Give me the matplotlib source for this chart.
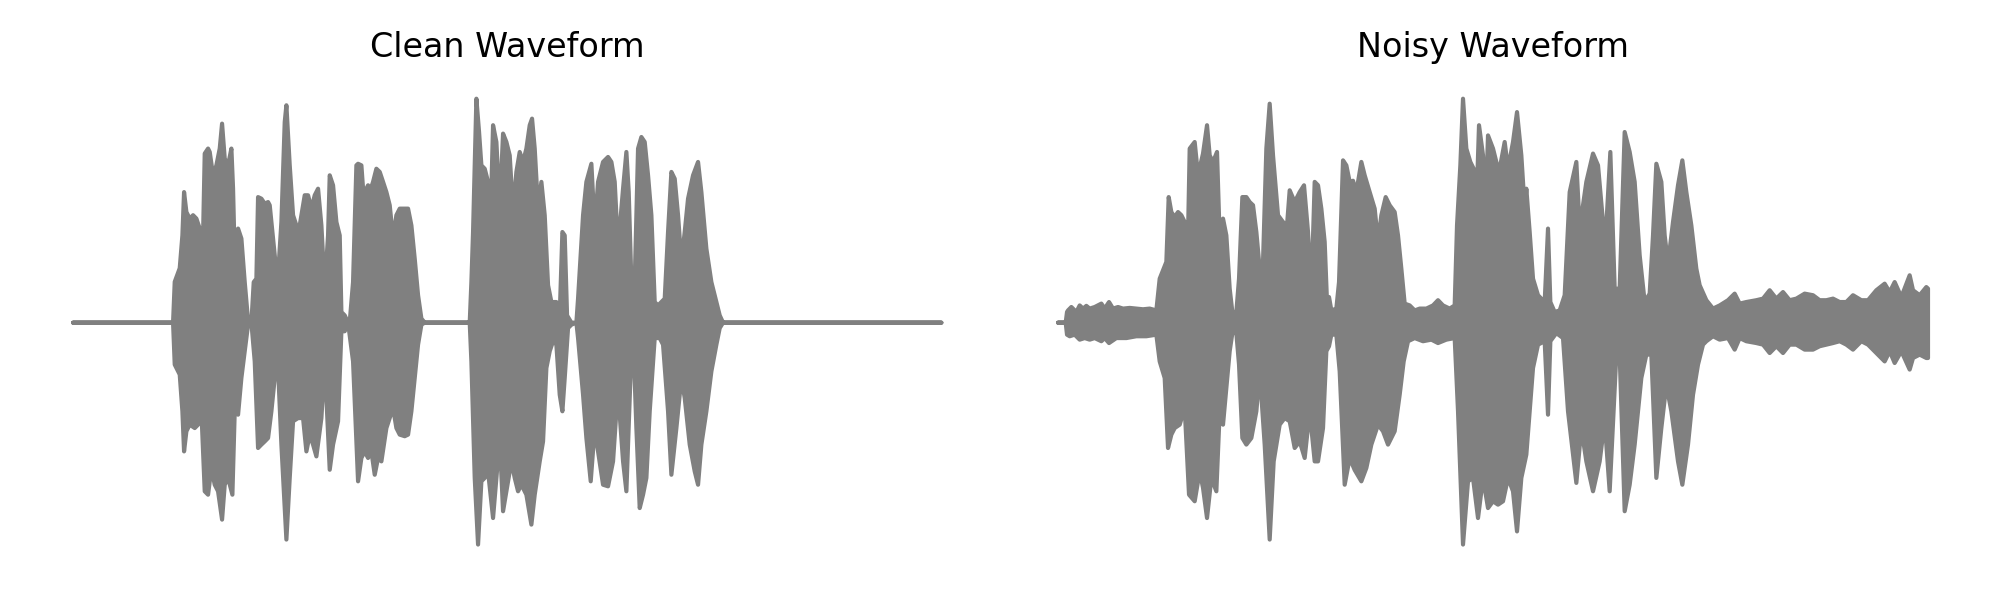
import numpy as np
import matplotlib
matplotlib.use("Agg")
import matplotlib.pyplot as plt

# envelope of the waveforms: time in ms, amplitude normalised
clean_upper_t = [1, 301, 306, 321, 329, 334, 341, 351, 361, 371, 381, 391, 396, 406, 411, 421, 431, 441, 448,
                 456, 466, 476, 481, 486, 496, 506, 516, 526, 536, 543, 551, 556, 566, 576, 586, 591, 601, 611,
                 616, 626, 636, 641, 651, 661, 671, 681, 696, 706, 716, 726, 736, 746, 756, 766, 771, 781, 791,
                 801, 806, 816, 826, 831, 841, 851, 856, 866, 871, 881, 886, 891, 901, 911, 921, 931, 941, 951,
                 961, 971, 981, 991, 1006, 1016, 1026, 1036, 1046, 1056, 1191, 1196, 1201, 1211, 1219, 1226,
                 1236, 1246, 1256, 1261, 1271, 1281, 1291, 1301, 1311, 1321, 1331, 1341, 1351, 1361, 1371,
                 1378, 1386, 1396, 1406, 1416, 1426, 1436, 1451, 1461, 1469, 1476, 1483, 1496, 1511, 1516,
                 1531, 1541, 1556, 1566, 1576, 1591, 1606, 1616, 1626, 1633, 1641, 1651, 1661, 1668, 1676,
                 1686, 1696, 1706, 1716, 1726, 1736, 1746, 1756, 1766, 1776, 1786, 1796, 1806, 1816, 1826,
                 1836, 1846, 1861, 1876, 1886, 1901, 1916, 1931, 1941, 1951, 2606]
clean_upper = [0, 0, 0.18, 0.24, 0.385, 0.576, 0.488, 0.459, 0.474, 0.459, 0.415, 0.385, 0.746, 0.768, 0.753,
               0.65, 0.694, 0.768, 0.878, 0.724, 0.694, 0.768, 0.591, 0.282, 0.415, 0.371, 0.179, 0.01, 0,
               0.179, 0.194, 0.554, 0.547, 0.525, 0.532, 0.518, 0.371, 0.224, 0.209, 0.444, 0.885, 0.959,
               0.694, 0.474, 0.429, 0.429, 0.562, 0.562, 0.503, 0.562, 0.591, 0.429, 0.15, 0.385, 0.65,
               0.606, 0.444, 0.385, 0.047, 0.032, 0, 0.003, 0.179, 0.694, 0.701, 0.694, 0.591, 0.591,
               0.606, 0.576, 0.621, 0.679, 0.665, 0.621, 0.576, 0.518, 0.371, 0.474, 0.503, 0.503, 0.503,
               0.429, 0.282, 0.121, 0.018, 0, 0, 0.179, 0.4, 0.988, 0.841, 0.694, 0.679, 0.621, 0.591,
               0.871, 0.797, 0.503, 0.834, 0.797, 0.738, 0.488, 0.665, 0.753, 0.709, 0.768, 0.871, 0.9,
               0.768, 0.503, 0.621, 0.474, 0.165, 0.091, 0.091, 0.032, 0.4, 0.385, 0.032, 0, 0, 0.106,
               0.474, 0.621, 0.701, 0.415, 0.621, 0.709, 0.731, 0.709, 0.621, 0.415, 0.415, 0.591, 0.753,
               0.576, 0.179, 0.179, 0.768, 0.819, 0.797, 0.65, 0.474, 0.091, 0.076, 0.091, 0.106, 0.4,
               0.665, 0.635, 0.474, 0.268, 0.4, 0.547, 0.65, 0.709, 0.576, 0.326, 0.179, 0.091, 0.032, 0, 0]

clean_lower_t = [1, 301, 306, 321, 329, 334, 341, 351, 366, 376, 386, 396, 406, 416, 426, 436, 448, 456, 466,
                 479, 486, 496, 506, 516, 526, 536, 546, 556, 566, 576, 586, 596, 606, 616, 626, 641, 651, 661,
                 676, 691, 701, 711, 721, 731, 746, 756, 771, 781, 796, 806, 816, 826, 841, 856, 866, 876, 886,
                 896, 906, 916, 926, 941, 961, 971, 981, 996, 1006, 1016, 1026, 1036, 1046, 1056, 1191, 1196,
                 1206, 1216, 1226, 1236, 1246, 1261, 1271, 1281, 1291, 1316, 1326, 1336, 1346, 1361, 1376,
                 1386, 1401, 1411, 1421, 1431, 1441, 1451, 1461, 1469, 1476, 1486, 1496, 1511, 1516, 1531,
                 1541, 1554, 1566, 1576, 1591, 1606, 1621, 1631, 1641, 1651, 1661, 1676, 1683, 1691, 1701,
                 1711, 1721, 1731, 1746, 1761, 1771, 1786, 1796, 1811, 1826, 1836, 1851, 1866, 1876, 1886,
                 1901, 1916, 1931, 1941, 1951, 2606]
clean_lower = [0, 0, 0.185, 0.229, 0.391, 0.568, 0.479, 0.45, 0.465, 0.45, 0.391, 0.744, 0.759, 0.641, 0.715,
               0.744, 0.869, 0.715, 0.685, 0.759, 0.391, 0.406, 0.244, 0.126, 0.009, 0, 0.171, 0.553, 0.538,
               0.524, 0.509, 0.391, 0.244, 0.2, 0.538, 0.957, 0.685, 0.435, 0.421, 0.421, 0.568, 0.494,
               0.538, 0.59, 0.421, 0.171, 0.649, 0.538, 0.435, 0.038, 0.038, 0, 0.171, 0.7, 0.597, 0.568,
               0.597, 0.568, 0.671, 0.597, 0.612, 0.465, 0.376, 0.465, 0.494, 0.501, 0.494, 0.391, 0.244,
               0.097, 0.009, 0, 0, 0.171, 0.685, 0.979, 0.7, 0.685, 0.656, 0.862, 0.685, 0.509, 0.832,
               0.612, 0.685, 0.744, 0.715, 0.759, 0.891, 0.759, 0.612, 0.524, 0.2, 0.126, 0.082, 0.097,
               0.318, 0.391, 0.244, 0.024, 0.009, 0, 0.068, 0.318, 0.509, 0.7, 0.465, 0.568, 0.715, 0.722,
               0.612, 0.391, 0.406, 0.612, 0.744, 0.126, 0.126, 0.465, 0.818, 0.759, 0.685, 0.391, 0.068,
               0.068, 0.097, 0.391, 0.671, 0.465, 0.244, 0.332, 0.538, 0.656, 0.715, 0.538, 0.391, 0.215,
               0.097, 0.024, 0, 0]

noisy_upper_t = [1, 24, 28, 31, 41, 56, 66, 76, 86, 96, 111, 131, 141, 154, 166, 181, 196, 216, 236, 256, 276,
                 296, 306, 316, 326, 333, 341, 351, 361, 371, 381, 391, 396, 411, 421, 436, 448, 456, 466, 478,
                 486, 496, 506, 516, 524, 536, 544, 554, 566, 576, 586, 596, 606, 616, 626, 636, 646, 661, 676,
                 688, 696, 711, 726, 739, 751, 761, 771, 781, 791, 801, 808, 814, 821, 836, 844, 856, 866, 876,
                 886, 896, 911, 921, 936, 951, 961, 971, 984, 996, 1011, 1021, 1031, 1041, 1056, 1071, 1086,
                 1106, 1126, 1141, 1156, 1176, 1191, 1198, 1208, 1216, 1226, 1238, 1248, 1256, 1264, 1276,
                 1284, 1291, 1306, 1321, 1326, 1341, 1351, 1366, 1378, 1391, 1401, 1406, 1416, 1426, 1441,
                 1461, 1471, 1478, 1491, 1506, 1521, 1536, 1556, 1566, 1586, 1606, 1621, 1636, 1646, 1658,
                 1671, 1686, 1701, 1716, 1731, 1746, 1761, 1776, 1786, 1796, 1811, 1821, 1831, 1846, 1861,
                 1874, 1886, 1901, 1916, 1926, 1946, 1966, 1986, 2011, 2031, 2046, 2066, 2096, 2116, 2136,
                 2156, 2176, 2196, 2216, 2241, 2266, 2286, 2306, 2326, 2346, 2366, 2386, 2411, 2431, 2456,
                 2481, 2496, 2511, 2531, 2556, 2566, 2586, 2606, 2611]
noisy_upper = [0, 0, 0.047, 0.054, 0.069, 0.047, 0.076, 0.062, 0.074, 0.062, 0.069, 0.084, 0.062, 0.091, 0.062,
               0.069, 0.062, 0.065, 0.062, 0.059, 0.062, 0.054, 0.194, 0.231, 0.268, 0.554, 0.488, 0.466,
               0.488, 0.474, 0.444, 0.385, 0.768, 0.797, 0.65, 0.746, 0.871, 0.738, 0.709, 0.753, 0.371,
               0.459, 0.385, 0.15, 0.047, 0.047, 0.194, 0.554, 0.554, 0.532, 0.518, 0.4, 0.238, 0.268,
               0.768, 0.966, 0.738, 0.474, 0.444, 0.429, 0.584, 0.532, 0.576, 0.606, 0.4, 0.135, 0.621,
               0.606, 0.503, 0.356, 0.091, 0.113, 0.054, 0.062, 0.179, 0.716, 0.694, 0.621, 0.626, 0.576,
               0.709, 0.65, 0.576, 0.503, 0.356, 0.474, 0.554, 0.518, 0.488, 0.385, 0.238, 0.084, 0.076,
               0.054, 0.062, 0.062, 0.076, 0.099, 0.076, 0.062, 0.076, 0.429, 0.694, 0.988, 0.768, 0.709,
               0.679, 0.503, 0.871, 0.738, 0.503, 0.826, 0.768, 0.679, 0.679, 0.797, 0.679, 0.797, 0.929,
               0.738, 0.503, 0.591, 0.4, 0.194, 0.121, 0.091, 0.415, 0.091, 0.047, 0.054, 0.121, 0.576,
               0.709, 0.415, 0.621, 0.746, 0.694, 0.444, 0.429, 0.753, 0.15, 0.15, 0.841, 0.753, 0.621,
               0.297, 0.091, 0.128, 0.385, 0.701, 0.621, 0.385, 0.26, 0.444, 0.606, 0.716, 0.576, 0.429,
               0.238, 0.165, 0.099, 0.062, 0.076, 0.099, 0.128, 0.084, 0.091, 0.099, 0.106, 0.143, 0.106,
               0.135, 0.099, 0.106, 0.128, 0.121, 0.099, 0.099, 0.106, 0.091, 0.091, 0.121, 0.099, 0.099,
               0.143, 0.172, 0.135, 0.179, 0.113, 0.209, 0.143, 0.121, 0.157, 0.15]

noisy_lower_t = [1, 24, 28, 36, 51, 66, 81, 96, 111, 131, 141, 154, 176, 206, 236, 266, 296, 306, 321, 331, 341,
                 351, 366, 381, 394, 411, 426, 436, 448, 461, 476, 486, 496, 506, 516, 524, 536, 544, 554, 566,
                 581, 596, 606, 621, 636, 648, 666, 681, 696, 711, 726, 741, 756, 771, 781, 796, 806, 814, 821,
                 836, 846, 861, 876, 891, 911, 926, 941, 961, 976, 991, 1011, 1026, 1038, 1051, 1071, 1096,
                 1121, 1141, 1166, 1191, 1201, 1216, 1231, 1246, 1261, 1276, 1291, 1306, 1321, 1336, 1351,
                 1366, 1378, 1391, 1406, 1416, 1426, 1441, 1461, 1471, 1478, 1496, 1516, 1531, 1556, 1571,
                 1586, 1606, 1626, 1641, 1656, 1676, 1686, 1701, 1716, 1731, 1751, 1766, 1781, 1796, 1811,
                 1826, 1841, 1861, 1874, 1891, 1906, 1921, 1936, 1946, 1966, 1986, 2011, 2031, 2046, 2066,
                 2096, 2116, 2136, 2156, 2176, 2196, 2216, 2241, 2266, 2286, 2306, 2326, 2346, 2366, 2386,
                 2411, 2431, 2456, 2481, 2496, 2511, 2531, 2556, 2566, 2586, 2606, 2611]
noisy_lower = [0, 0, 0.053, 0.06, 0.053, 0.075, 0.068, 0.075, 0.068, 0.082, 0.068, 0.09, 0.068, 0.068, 0.06,
               0.06, 0.053, 0.171, 0.244, 0.553, 0.494, 0.465, 0.45, 0.376, 0.759, 0.788, 0.656, 0.729,
               0.862, 0.685, 0.744, 0.391, 0.45, 0.288, 0.126, 0.046, 0.046, 0.185, 0.509, 0.538, 0.509,
               0.391, 0.215, 0.538, 0.957, 0.612, 0.45, 0.421, 0.435, 0.553, 0.524, 0.597, 0.391, 0.612,
               0.612, 0.465, 0.126, 0.104, 0.053, 0.053, 0.215, 0.715, 0.597, 0.65, 0.7, 0.641, 0.538, 0.45,
               0.479, 0.538, 0.479, 0.318, 0.171, 0.082, 0.068, 0.082, 0.075, 0.09, 0.075, 0.068, 0.391,
               0.979, 0.7, 0.685, 0.862, 0.685, 0.818, 0.788, 0.803, 0.788, 0.685, 0.744, 0.921, 0.685,
               0.582, 0.391, 0.2, 0.097, 0.082, 0.406, 0.082, 0.046, 0.068, 0.391, 0.707, 0.465, 0.612,
               0.744, 0.612, 0.435, 0.744, 0.141, 0.141, 0.832, 0.715, 0.538, 0.244, 0.141, 0.141, 0.685,
               0.465, 0.274, 0.391, 0.612, 0.715, 0.538, 0.318, 0.185, 0.097, 0.082, 0.06, 0.075, 0.068,
               0.119, 0.068, 0.082, 0.09, 0.097, 0.134, 0.104, 0.134, 0.097, 0.097, 0.119, 0.119, 0.104,
               0.097, 0.09, 0.082, 0.097, 0.119, 0.082, 0.097, 0.134, 0.171, 0.126, 0.178, 0.126, 0.207,
               0.156, 0.141, 0.156, 0.156]

titles = ["Clean Waveform", "Noisy Waveform"]


def draw_wave(ax, up_t, up, lo_t, lo, title):
    # outline: upper envelope left to right, then lower envelope back
    x = np.concatenate([up_t, lo_t[::-1]])
    y = np.concatenate([up, -np.asarray(lo)[::-1]])
    ax.fill(x, y, facecolor="gray", edgecolor="gray", linewidth=1.5, joinstyle="round")
    ax.set_xlim(-130, 2740)
    ax.set_ylim(-1.1, 1.1)
    ax.set_title(title, fontsize=12)
    ax.axis("off")


fig, axes = plt.subplots(1, 2, figsize=(10, 3), dpi=200)
fig.subplots_adjust(left=0.0147, right=0.9855, top=0.8778, bottom=0.0467, wspace=0.0296)

draw_wave(axes[0], clean_upper_t, clean_upper, clean_lower_t, clean_lower, titles[0])
draw_wave(axes[1], noisy_upper_t, noisy_upper, noisy_lower_t, noisy_lower, titles[1])

fig.savefig("out.png", dpi=200)
